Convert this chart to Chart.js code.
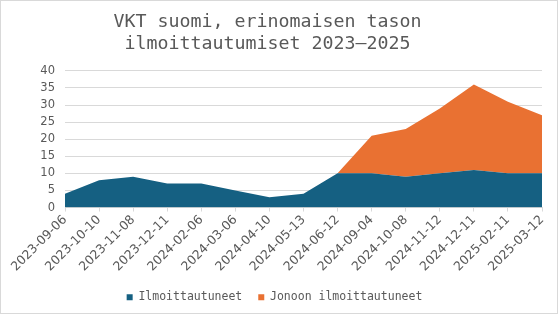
<!DOCTYPE html>
<html>
<head>
<meta charset="utf-8">
<script src="https://cdn.jsdelivr.net/npm/chart.js@4"></script>
<style>
  html, body { margin: 0; padding: 0; background: #fff; }
  #wrap { width: 558px; height: 314px; box-sizing: border-box; border: 1px solid #d9d9d9; }
</style>
</head>
<body>
<div id="wrap"><canvas id="myChart" width="556" height="312"></canvas></div>
<script>
// Chart data
const dates = ['2023-09-06', '2023-10-10', '2023-11-08', '2023-12-11', '2024-02-06', '2024-03-06',
  '2024-04-10', '2024-05-13', '2024-06-12', '2024-09-04', '2024-10-08', '2024-11-12',
  '2024-12-11', '2025-02-11', '2025-03-12'];
const registered = [4, 8, 9, 7, 7, 5, 3, 4, 10, 10, 9, 10, 11, 10, 10];
const queued = [0, 0, 0, 0, 0, 0, 0, 0, 0, 11, 14, 19, 25, 21, 17];
const yTicks = [0, 5, 10, 15, 20, 25, 30, 35, 40];

const mono = 'DejaVu Sans Mono';
const sans = 'DejaVu Sans';
const grey = '#595959';

// nudge the title a bit left, like in the original
const shiftBoxes = {
  id: 'shiftBoxes',
  afterLayout(chart) {
    chart.titleBlock.left -= 7;
    chart.titleBlock.right -= 7;
  }
};

const ctx = document.getElementById('myChart').getContext('2d');
const myChart = new Chart(ctx, {
  type: 'line',
  data: {
    labels: dates,
    datasets: [{
      label: 'Ilmoittautuneet',
      data: registered,
      backgroundColor: '#156082',
      borderColor: '#156082',
      borderWidth: 0,
      pointRadius: 0,
      fill: 'origin'
    }, {
      label: 'Jonoon ilmoittautuneet',
      data: queued,
      backgroundColor: '#E97132',
      borderColor: '#E97132',
      borderWidth: 0,
      pointRadius: 0,
      fill: '-1'
    }]
  },
  plugins: [shiftBoxes],
  options: {
    responsive: false,
    animation: false,
    layout: { padding: { left: 6, right: 15, top: 0, bottom: 0 } },
    scales: {
      x: {
        offset: false,
        grid: { display: true, drawOnChartArea: false, drawTicks: true, tickLength: 4, color: '#d9d9d9' },
        border: { display: true, color: '#d9d9d9' },
        ticks: {
          color: grey,
          font: { family: sans, size: 12.5 },
          autoSkip: false,
          minRotation: 45,
          maxRotation: 45,
          padding: 1
        }
      },
      y: {
        stacked: true,
        min: 0,
        max: 40,
        afterBuildTicks: function(scale) {
          scale.ticks = yTicks.map(v => ({ value: v }));
        },
        afterFit: function(scale) {
          scale.width = 58;
        },
        grid: { color: '#d9d9d9', drawTicks: false },
        border: { display: false },
        ticks: {
          color: grey,
          font: { family: sans, size: 11.5 },
          padding: 10
        }
      }
    },
    plugins: {
      title: {
        display: true,
        text: ['VKT suomi, erinomaisen tason', 'ilmoittautumiset 2023–2025'],
        color: grey,
        font: { family: mono, size: 18.3, weight: 'normal', lineHeight: 1.2 },
        padding: { top: 10, bottom: 16 }
      },
      legend: {
        position: 'bottom',
        labels: {
          color: grey,
          font: { family: mono, size: 11.5 },
          boxWidth: 6,
          boxHeight: 6,
          padding: 16
        }
      },
      tooltip: { enabled: false }
    }
  }
});
</script>
</body>
</html>
